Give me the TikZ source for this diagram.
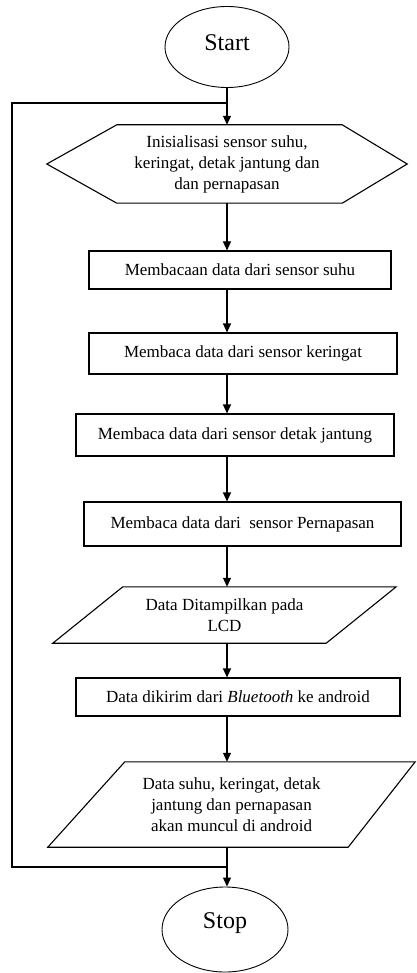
\documentclass[tikz,border=0pt]{standalone}
\usepackage{fontspec}
\setmainfont{Liberation Serif}
\usetikzlibrary{shapes.geometric,arrows.meta,calc}
\begin{document}
\begin{tikzpicture}[x=1pt,y=-1pt,
  every node/.style={font=\fontsize{17}{21}\selectfont, align=center, inner sep=0pt},
  line/.style={line width=1.1pt, black},
  arr/.style={line, -{Triangle[length=9pt,width=8pt]}},
  term/.style={ellipse, draw, line width=0.9pt, font=\fontsize{24}{28}\selectfont},
  procbox/.style={rectangle, draw, line width=1.1pt},
  shapebox/.style={rectangle, draw=none}]
\useasboundingbox (0,0) rectangle (416,973);
\coordinate (axis) at (227,0);
\coordinate (loopL) at (12,0);
\coordinate (jtop) at (227,103);
\coordinate (jbot) at (227,867);

\node[term, minimum width=124pt, minimum height=81pt, text depth=8pt] (start) at (227,47) {Start};

\node[shapebox, minimum width=360pt, minimum height=78pt] (init) at (227,164)
  {Inisialisasi sensor suhu,\\keringat, detak jantung dan\\dan pernapasan};
\draw[line] (init.west) -- ([xshift=70pt]init.north west) -- ([xshift=-65pt]init.north east)
  -- (init.east) -- ([xshift=-65pt]init.south east) -- ([xshift=70pt]init.south west) -- cycle;

\node[procbox, minimum width=302pt, minimum height=38pt] (b1) at (240,270) {Membacaan data dari sensor suhu};
\node[procbox, minimum width=308pt, minimum height=41pt] (b2) at (243,353.5) {Membaca data dari sensor keringat};
\node[procbox, minimum width=318pt, minimum height=42pt] (b3) at (235,435) {Membaca data dari sensor detak jantung};
\node[procbox, minimum width=317pt, minimum height=44pt] (b4) at (242.5,524) {Membaca data dari\ \ sensor Pernapasan};

\node[shapebox, minimum width=343pt, minimum height=56pt] (lcd) at (224.5,615)
  {Data Ditampilkan pada\\LCD};
\draw[line] ([xshift=70pt]lcd.north west) -- (lcd.north east) -- ([xshift=-70pt]lcd.south east)
  -- (lcd.south west) -- cycle;

\node[procbox, minimum width=324pt, minimum height=38pt] (b5) at (238,697) {Data dikirim dari \textit{Bluetooth} ke android};

\node[shapebox, minimum width=367pt, minimum height=85pt] (out) at (231.5,804.5)
  {Data suhu, keringat, detak\\jantung dan pernapasan\\akan muncul di android};
\draw[line] ([xshift=77pt]out.north west) -- (out.north east) -- ([xshift=-67pt]out.south east)
  -- (out.south west) -- cycle;

\node[term, minimum width=126pt, minimum height=85pt, text depth=17pt] (stop) at (225,929.5) {Stop};

\draw[arr] (start.south) -- (init.north -| axis);
\draw[arr] (init.south -| axis) -- (b1.north -| axis);
\draw[arr] (b1.south -| axis) -- (b2.north -| axis);
\draw[arr] (b2.south -| axis) -- (b3.north -| axis);
\draw[arr] (b3.south -| axis) -- (b4.north -| axis);
\draw[arr] (b4.south -| axis) -- (lcd.north -| axis);
\draw[arr] (lcd.south -| axis) -- (b5.north -| axis);
\draw[arr] (b5.south -| axis) -- (out.north -| axis);
\draw[arr] (out.south -| axis) -- (stop.north -| axis);
\draw[line] (jbot) -- (jbot -| loopL) -- (jtop -| loopL) -- (jtop);
\end{tikzpicture}
\end{document}
